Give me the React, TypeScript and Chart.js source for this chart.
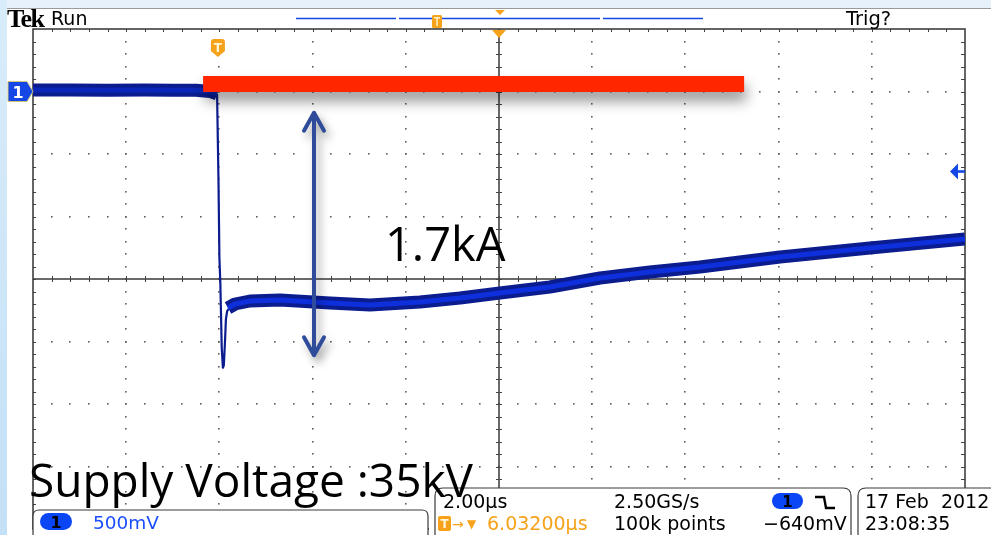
import React, { useEffect, useRef } from "react";
import { Chart, registerables } from "chart.js";

Chart.register(...registerables);

const W = 991;
const H = 535;

// Horizontal: 2.00 µs/div over 10 div (µs from screen left edge)
const timeMin = 0;
const timeMax = 20;
// Vertical: 500 mV/div over 8 div, channel-1 ground at +3 div
const voltMin = -3.5;
const voltMax = 0.5;

// Trace before the current step (V)
const preTime = [0, 0.8, 1.6, 2.4, 3.0, 3.5, 3.8, 3.95];
const preVolt = [0.012, 0.012, 0.01, 0.012, 0.01, 0.01, 0.0, -0.02];

// The fall and undershoot
const dropTime = [3.95, 3.98, 4.0, 4.02, 4.05, 4.075, 4.095, 4.12, 4.14, 4.165, 4.19];
const dropVolt = [-0.02, -0.7, -1.33, -1.53, -2.05, -2.21, -2.19, -2.0, -1.82, -1.76, -1.74];

// Trace after the step
const postTime = [4.185, 4.335, 4.657, 5.3, 6.373, 7.232, 8.305, 9.163, 10.02, 11.09, 12.17, 13.24, 14.31, 16.03, 17.96, 20];
const postVolt = [-1.732, -1.7, -1.676, -1.668, -1.692, -1.708, -1.684, -1.652, -1.612, -1.564, -1.492, -1.444, -1.404, -1.324, -1.252, -1.18];

// Annotations (data units)
const redBarTime = [3.65, 15.26];
const redBarVolt = 0.06;
const arrowTime = 6.03;
const arrowVolt = [-0.17, -2.11];
const triggerTime = 3.968;
const triggerLevel = -0.64;
const groundLevel = 0;
const delayTime = 10;

const pts = (ts: number[], vs: number[]) => ts.map((t, i) => ({ x: t, y: vs[i] }));

const ORANGE = "#f7a21b";
const SCOPE_BLUE = "#1547e6";

const scopePlugin = {
  id: "scope",
  beforeDraw(chart: any) {
    const ctx = chart.ctx;
    ctx.save();
    ctx.fillStyle = "#ffffff";
    ctx.fillRect(0, 0, W, H);
    ctx.fillStyle = "#e6f1fb";
    ctx.fillRect(0, 0, W, 8);
    const g = ctx.createLinearGradient(0, 0, 0, H);
    g.addColorStop(0, "#d9ecfa");
    g.addColorStop(1, "#c3e0f6");
    ctx.fillStyle = g;
    ctx.fillRect(0, 0, 7, H);
    ctx.fillStyle = "#9a9a9a";
    ctx.fillRect(7, 8, W - 7, 1);
    ctx.restore();
  },
  beforeDatasetsDraw(chart: any) {
    const ctx = chart.ctx;
    const a = chart.chartArea;
    const dx = (a.right - a.left) / 10;
    const dy = (a.bottom - a.top) / 8;
    const mx = dx / 5;
    const my = dy / 5;
    ctx.save();
    ctx.fillStyle = "#5e5e5e";
    for (let i = 1; i < 10; i++) {
      if (i === 5) continue;
      const x = a.left + i * dx;
      for (let k = 1; k < 40; k++) {
        const y = a.top + k * my;
        ctx.fillRect(Math.round(x) - 1, Math.round(y) - 1, 1.6, 1.6);
      }
    }
    for (let j = 1; j < 8; j++) {
      if (j === 4) continue;
      const y = a.top + j * dy;
      for (let k = 1; k < 50; k++) {
        const x = a.left + k * mx;
        ctx.fillRect(Math.round(x) - 1, Math.round(y) - 1, 1.6, 1.6);
      }
    }
    const cx = Math.round(a.left + 5 * dx);
    const cy = Math.round(a.top + 4 * dy);
    ctx.strokeStyle = "#3a3a3a";
    ctx.lineWidth = 1.5;
    ctx.beginPath();
    ctx.moveTo(a.left, cy);
    ctx.lineTo(a.right, cy);
    ctx.moveTo(cx, a.top);
    ctx.lineTo(cx, a.bottom);
    ctx.stroke();
    ctx.lineWidth = 1;
    ctx.strokeStyle = "#444";
    ctx.beginPath();
    for (let k = 1; k < 50; k++) {
      const x = Math.round(a.left + k * mx) + 0.5;
      ctx.moveTo(x, cy - 3);
      ctx.lineTo(x, cy + 3);
      ctx.moveTo(x, a.top);
      ctx.lineTo(x, a.top + 3);
    }
    for (let k = 1; k < 40; k++) {
      const y = Math.round(a.top + k * my) + 0.5;
      ctx.moveTo(cx - 3, y);
      ctx.lineTo(cx + 3, y);
      ctx.moveTo(a.left, y);
      ctx.lineTo(a.left + 3, y);
      ctx.moveTo(a.right - 4, y);
      ctx.lineTo(a.right, y);
    }
    ctx.stroke();
    ctx.strokeStyle = "#333";
    ctx.lineWidth = 1.5;
    ctx.strokeRect(a.left, a.top, a.right - a.left, a.bottom - a.top);
    ctx.restore();
  },
  afterDatasetsDraw(chart: any) {
    const ctx = chart.ctx;
    const xs = chart.scales.x;
    const ys = chart.scales.y;
    const a = chart.chartArea;

    const x0 = xs.getPixelForValue(redBarTime[0]);
    const x1 = xs.getPixelForValue(redBarTime[1]);
    const yc = ys.getPixelForValue(redBarVolt);
    ctx.save();
    ctx.shadowColor = "rgba(0,0,0,0.42)";
    ctx.shadowBlur = 14;
    ctx.shadowOffsetX = 2;
    ctx.shadowOffsetY = 9;
    ctx.fillStyle = "#ff2600";
    ctx.fillRect(x0, yc - 8, x1 - x0, 16);
    ctx.restore();

    const ax = xs.getPixelForValue(arrowTime);
    const ay0 = ys.getPixelForValue(arrowVolt[0]);
    const ay1 = ys.getPixelForValue(arrowVolt[1]);
    ctx.save();
    ctx.strokeStyle = "#2e4c99";
    ctx.lineWidth = 4;
    ctx.lineCap = "round";
    ctx.lineJoin = "round";
    ctx.shadowColor = "rgba(0,0,0,0.35)";
    ctx.shadowBlur = 8;
    ctx.shadowOffsetX = 4;
    ctx.shadowOffsetY = 6;
    ctx.beginPath();
    ctx.moveTo(ax, ay0 + 2);
    ctx.lineTo(ax, ay1 - 2);
    ctx.moveTo(ax - 10, ay0 + 18);
    ctx.lineTo(ax, ay0);
    ctx.lineTo(ax + 10, ay0 + 18);
    ctx.moveTo(ax - 10, ay1 - 18);
    ctx.lineTo(ax, ay1);
    ctx.lineTo(ax + 10, ay1 - 18);
    ctx.stroke();
    ctx.restore();

    const tx = xs.getPixelForValue(triggerTime);
    ctx.save();
    ctx.fillStyle = ORANGE;
    ctx.beginPath();
    ctx.moveTo(tx - 7, 42);
    ctx.quadraticCurveTo(tx - 7, 39, tx - 4, 39);
    ctx.lineTo(tx + 4, 39);
    ctx.quadraticCurveTo(tx + 7, 39, tx + 7, 42);
    ctx.lineTo(tx + 7, 51);
    ctx.lineTo(tx, 57);
    ctx.lineTo(tx - 7, 51);
    ctx.closePath();
    ctx.fill();
    ctx.fillStyle = "#fff6d8";
    ctx.font = "bold 12px 'DejaVu Sans'";
    ctx.textAlign = "center";
    ctx.textBaseline = "alphabetic";
    ctx.fillText("T", tx, 52);

    const dxp = xs.getPixelForValue(delayTime);
    ctx.fillStyle = ORANGE;
    ctx.beginPath();
    ctx.moveTo(dxp - 7, a.top + 1);
    ctx.lineTo(dxp + 7, a.top + 1);
    ctx.lineTo(dxp, a.top + 9);
    ctx.closePath();
    ctx.fill();

    const gy = ys.getPixelForValue(groundLevel);
    ctx.fillStyle = SCOPE_BLUE;
    ctx.strokeStyle = "#cfc47a";
    ctx.lineWidth = 1;
    ctx.beginPath();
    ctx.moveTo(8, gy - 10);
    ctx.lineTo(27, gy - 10);
    ctx.lineTo(33, gy);
    ctx.lineTo(27, gy + 10);
    ctx.lineTo(8, gy + 10);
    ctx.closePath();
    ctx.fill();
    ctx.stroke();
    ctx.fillStyle = "#ffffff";
    ctx.font = "bold 16px 'DejaVu Sans'";
    ctx.fillText("1", 18, gy + 6);

    const ty = ys.getPixelForValue(triggerLevel);
    ctx.fillStyle = SCOPE_BLUE;
    ctx.beginPath();
    ctx.moveTo(a.right - 15, ty);
    ctx.lineTo(a.right - 7, ty - 8);
    ctx.lineTo(a.right - 7, ty + 8);
    ctx.closePath();
    ctx.fill();
    ctx.fillRect(a.right - 8, ty - 1.3, 8, 2.6);
    ctx.restore();
  },
};

const BAND_OUTER = "#0b1c8f";
const BAND_INNER = "#0d2fdc";

export default function App() {
  const ref = useRef<HTMLCanvasElement>(null);

  useEffect(() => {
    const canvas = ref.current;
    if (!canvas) return;
    const common = {
      pointRadius: 0,
      pointHoverRadius: 0,
      tension: 0,
      fill: false,
      borderJoinStyle: "round" as const,
      clip: 0,
    };
    const chart = new Chart(canvas, {
      type: "line",
      data: {
        datasets: [
          { ...common, label: "pre core", data: pts(preTime, preVolt), borderColor: "#0a26b8", borderWidth: 5, order: 1 },
          { ...common, label: "post core", data: pts(postTime, postVolt), borderColor: BAND_INNER, borderWidth: 5, order: 1 },
          { ...common, label: "drop", data: pts(dropTime, dropVolt), borderColor: BAND_OUTER, borderWidth: 2.2, order: 2 },
          { ...common, label: "pre", data: pts(preTime, preVolt), borderColor: BAND_OUTER, borderWidth: 13, order: 3 },
          { ...common, label: "post", data: pts(postTime, postVolt), borderColor: BAND_OUTER, borderWidth: 13, order: 3 },
        ],
      },
      options: {
        responsive: false,
        maintainAspectRatio: false,
        devicePixelRatio: 1,
        animation: false,
        events: [],
        layout: { padding: { left: 33, right: 26, top: 29, bottom: 6 } },
        scales: {
          x: { type: "linear", min: timeMin, max: timeMax, display: false },
          y: { type: "linear", min: voltMin, max: voltMax, display: false },
        },
        plugins: { legend: { display: false }, tooltip: { enabled: false }, title: { display: false } },
      },
      plugins: [scopePlugin],
    });
    return () => chart.destroy();
  }, []);

  const scopeFont = "'DejaVu Sans'";
  const slideFont = "'Open Sans'";

  return (
    <div style={{ position: "fixed", left: 0, top: 0, width: W, height: H, overflow: "hidden", background: "#fff" }}>
      <canvas ref={ref} width={W} height={H} style={{ position: "absolute", left: 0, top: 0, width: W, height: H }} />
      <svg width={W} height={H} style={{ position: "absolute", left: 0, top: 0, pointerEvents: "none" }}>
        <text x={7} y={27} fontFamily="'Liberation Serif'" fontWeight="bold" fontSize={26} letterSpacing={-1.5} fill="#000">Tek</text>
        <text x={51} y={25} fontFamily={scopeFont} fontSize={19} fill="#000">Run</text>
        <line x1={296} y1={18.5} x2={396} y2={18.5} stroke={SCOPE_BLUE} strokeWidth={1.5} />
        <line x1={399} y1={18.5} x2={600} y2={18.5} stroke={SCOPE_BLUE} strokeWidth={1.5} />
        <line x1={603} y1={18.5} x2={703} y2={18.5} stroke={SCOPE_BLUE} strokeWidth={1.5} />
        <rect x={432} y={15} width={10} height={13} rx={1.5} fill={ORANGE} />
        <rect x={434} y={17} width={6} height={1.5} fill="#fff3c8" />
        <rect x={436.3} y={17} width={1.5} height={9} fill="#fff3c8" />
        <polygon points="495,10 505,10 500,15" fill={ORANGE} />
        <text x={846} y={25} fontFamily={scopeFont} fontSize={19.5} fill="#000">Trig?</text>

        <rect x={429} y={488} width={W - 429} height={H - 488} fill="#fff" />
        <path d="M33 540 L33 516 Q33 510 39 510 L422 510 Q428 510 428 516 L428 540" fill="#fff" stroke="#3a3a3a" strokeWidth={1.2} />
        <path d="M435 540 L435 496 Q435 488 443 488 L843 488 Q851 488 851 496 L851 540" fill="#fff" stroke="#3a3a3a" strokeWidth={1.2} />
        <path d="M858 540 L858 496 Q858 488 866 488 L995 488" fill="#fff" stroke="#3a3a3a" strokeWidth={1.2} />

        <rect x={40} y={513} width={32} height={17} rx={8.5} fill="#0a46f5" />
        <text x={56} y={528} textAnchor="middle" fontFamily={scopeFont} fontWeight="bold" fontSize={16} fill="#000">1</text>
        <text x={93} y={529} fontFamily={scopeFont} fontSize={18.5} fill="#1a4eff">500mV</text>

        <text x={443} y={508} fontFamily={scopeFont} fontSize={19} fill="#000">2.00µs</text>
        <text x={614} y={508} fontFamily={scopeFont} fontSize={19} fill="#000">2.50GS/s</text>
        <rect x={772} y={493} width={31} height={16} rx={8} fill="#0a46f5" />
        <text x={787.5} y={507} textAnchor="middle" fontFamily={scopeFont} fontWeight="bold" fontSize={15} fill="#000">1</text>
        <path d="M815 497 H824 L826 508 H835" fill="none" stroke="#000" strokeWidth={2.4} />

        <rect x={438} y={516} width={13} height={15} rx={2} fill={ORANGE} />
        <text x={444.5} y={528} textAnchor="middle" fontFamily={scopeFont} fontWeight="bold" fontSize={12} fill="#fff6d8">T</text>
        <text x={452} y={529} fontFamily={scopeFont} fontSize={14} fill={ORANGE}>→</text>
        <text x={467} y={528} fontFamily={scopeFont} fontSize={12} fill={ORANGE}>▼</text>
        <text x={487} y={530} fontFamily={scopeFont} fontSize={19} fill={ORANGE}>6.03200µs</text>
        <text x={614} y={530} fontFamily={scopeFont} fontSize={19} fill="#000">100k points</text>
        <text x={763} y={530} fontFamily={scopeFont} fontSize={19} fill="#000">−640mV</text>

        <text x={865} y={508} fontFamily={scopeFont} fontSize={19} fill="#000" style={{ whiteSpace: "pre" }}>17 Feb  2012</text>
        <text x={865} y={530} fontFamily={scopeFont} fontSize={19} fill="#000">23:08:35</text>

        <text x={385} y={261} fontFamily={slideFont} fontSize={47} fill="#000">1.7kA</text>
        <text x={29} y={497} fontFamily={slideFont} fontSize={46} fill="#000">Supply Voltage :35kV</text>
      </svg>
    </div>
  );
}
